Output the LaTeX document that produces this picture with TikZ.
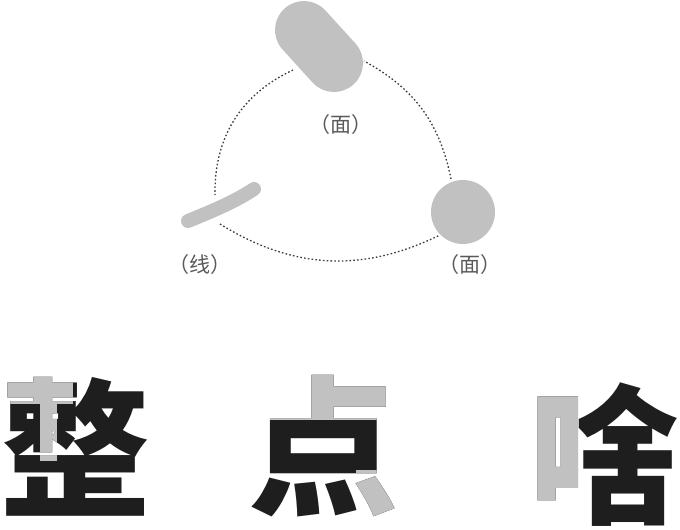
\documentclass[tikz,border=0pt]{standalone}
\usepackage{fontspec}
\newfontfamily\cjk{Noto Sans CJK SC}
\usetikzlibrary{positioning,calc}
\definecolor{shapegray}{HTML}{C1C1C1}
\definecolor{inkblack}{HTML}{1E1E1E}
\definecolor{labelgray}{HTML}{5A5A5A}
\definecolor{dotgray}{HTML}{3C3C3C}
\tikzset{
  labeltext/.style={text=labelgray,font=\cjk\fontsize{21}{22}\selectfont,inner sep=0pt},
  bigchar/.style={font=\cjk\bfseries\fontsize{150}{150}\selectfont,inner sep=0pt},
  link/.style={dotgray,line width=1.3pt,dash pattern=on 1.6pt off 2.2pt},
}

\begin{document}
\begin{tikzpicture}[x=1pt,y=-1pt]
  \useasboundingbox (0,0) rectangle (680,530);
  % 面（上）
  \draw[shapegray,line width=58pt,line cap=round] (304,30)--(334,63);
  % 面（右下）
  \fill[shapegray] (463,212) circle[radius=32];
  % 线
  \draw[shapegray,line width=14pt,line cap=round] (188,221) .. controls (215,210) and (236,201) .. (254,189);
  % 连接点
  \coordinate (top-a) at (293,70);
  \coordinate (top-b) at (364,61);
  \coordinate (line-a) at (215,195);
  \coordinate (line-b) at (220,224);
  \coordinate (dot-a) at (440,235);
  \coordinate (dot-b) at (451,179);
  % 虚线
  \draw[link] (top-a) to[bend right=33] (line-a);
  \draw[link] (line-b) to[bend right=29] (dot-a);
  \draw[link] (dot-b) to[bend right=25] (top-b);
  % 标注
  \node[labeltext] (top-label) at (341,125) {（面）};
  \node[labeltext] (line-label) at (200,265) {（线）};
  \node[labeltext] (dot-label) at (470,265) {（面）};

  % 整
  \node[bigchar,text=inkblack] (zheng) at (75,447) {整};
  \begin{scope}
    \clip (0,370) rectangle (72,403) (40,370) rectangle (56,460);
    \node[bigchar,text=shapegray] (zheng-gray) at (zheng.center) {整};
  \end{scope}
  % 点
  \node[bigchar,text=inkblack] (dian) at (323,446) {点};
  \begin{scope}
    \clip (230,370) rectangle (450,419) (356,470) rectangle (405,525);
    \node[bigchar,text=shapegray] (dian-gray) at (dian.center) {点};
  \end{scope}
  % 啥
  \node[bigchar,text=inkblack] (sha) at (604,455) {啥};
  \begin{scope}
    \clip (520,370) rectangle (578,530);
    \node[bigchar,text=shapegray] (sha-gray) at (sha.center) {啥};
  \end{scope}
\end{tikzpicture}
\end{document}
